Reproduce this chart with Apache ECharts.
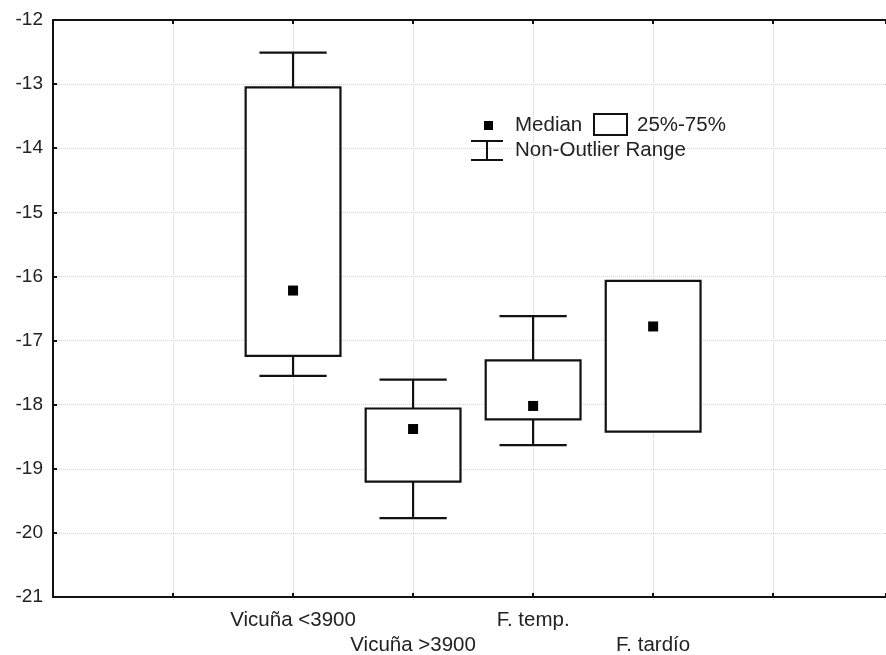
<!DOCTYPE html>
<html lang="es">
<head>
  <meta charset="utf-8">
  <title>Box plot</title>
  <script src="https://cdn.jsdelivr.net/npm/echarts@6/dist/echarts.min.js"></script>
  <style>
    html, body { margin: 0; padding: 0; background: #fff; }
    #chart { width: 886px; height: 655px; }
  </style>
</head>
<body>
  <div id="chart"></div>
  <script>
    // grupos y su posicion en el eje x
    var groups = ['Vicuña <3900', 'Vicuña >3900', 'F. temp.', 'F. tardío'];
    var positions = [2, 3, 4, 5];
    // valores
    var whiskerLow = [-17.55, -19.77, -18.63, -18.42];
    var q1 = [-17.24, -19.20, -18.23, -18.42];
    var median = [-16.22, -18.38, -18.02, -16.78];
    var q3 = [-13.05, -18.06, -17.31, -16.07];
    var whiskerHigh = [-12.51, -17.61, -16.62, -16.07];

    var font = '"Liberation Sans", Arial, sans-serif';
    var ink = '#111';

    var boxData = positions.map(function (x, i) {
      return [x, whiskerLow[i], q1[i], median[i], q3[i], whiskerHigh[i]];
    });

    var chart = echarts.init(document.getElementById('chart'));

    function renderBox(params, api) {
      var x = api.value(0);
      var lo = api.coord([x, api.value(1)]);
      var b1 = api.coord([x, api.value(2)]);
      var md = api.coord([x, api.value(3)]);
      var b3 = api.coord([x, api.value(4)]);
      var hi = api.coord([x, api.value(5)]);
      var boxW = api.size([0.79, 0])[0];
      var capW = api.size([0.56, 0])[0];
      var line = { stroke: ink, lineWidth: 2.2, fill: null };
      var kids = [];
      if (hi[1] < b3[1] - 0.5) {
        kids.push({ type: 'line', shape: { x1: hi[0], y1: hi[1], x2: b3[0], y2: b3[1] }, style: line });
        kids.push({ type: 'line', shape: { x1: hi[0] - capW / 2, y1: hi[1], x2: hi[0] + capW / 2, y2: hi[1] }, style: line });
      }
      if (lo[1] > b1[1] + 0.5) {
        kids.push({ type: 'line', shape: { x1: lo[0], y1: lo[1], x2: b1[0], y2: b1[1] }, style: line });
        kids.push({ type: 'line', shape: { x1: lo[0] - capW / 2, y1: lo[1], x2: lo[0] + capW / 2, y2: lo[1] }, style: line });
      }
      kids.push({ type: 'rect', shape: { x: b3[0] - boxW / 2, y: b3[1], width: boxW, height: b1[1] - b3[1] },
        style: { stroke: ink, lineWidth: 2.2, fill: '#fff' } });
      kids.push({ type: 'rect', shape: { x: md[0] - 5, y: md[1] - 5, width: 10, height: 10 },
        style: { fill: '#000' } });
      return { type: 'group', children: kids };
    }

    var legendX = 471, legendY = 113;
    var txt = '20.5px ' + font;
    var option = {
      animation: false,
      backgroundColor: '#fff',
      textStyle: { fontFamily: font },
      grid: { left: 53, right: 0, top: 20, bottom: 58, outerBoundsMode: 'none', containLabel: false },
      xAxis: [{
        type: 'value', min: 0, max: 6.94, interval: 1,
        axisLine: { lineStyle: { color: ink, width: 2 } },
        axisTick: { inside: true, length: 4, lineStyle: { color: ink, width: 2 } },
        axisLabel: {
          margin: 11, fontSize: 20.5, color: '#222', lineHeight: 25, fontFamily: font,
          formatter: function (v) {
            var i = positions.indexOf(v);
            if (i < 0) return '';
            return (i % 2 === 1 ? '\n' : '') + groups[i];
          }
        },
        splitLine: { show: true, lineStyle: { color: '#d4d4d4', type: 'dotted', width: 1 } }
      }, {
        type: 'value', position: 'top', min: 0, max: 6.94, interval: 1,
        axisLine: { lineStyle: { color: ink, width: 2 } },
        axisTick: { inside: true, length: 4, lineStyle: { color: ink, width: 2 } },
        axisLabel: { show: false },
        splitLine: { show: false }
      }],
      yAxis: {
        type: 'value', min: -21, max: -12, interval: 1,
        axisLine: { show: true, lineStyle: { color: ink, width: 2 } },
        axisTick: { show: true, inside: true, length: 4, lineStyle: { color: ink, width: 2 } },
        axisLabel: { margin: 10, fontSize: 19, color: '#222', fontFamily: font },
        splitLine: { show: true, lineStyle: { color: '#d4d4d4', type: 'dotted', width: 1 } }
      },
      series: [{
        type: 'custom',
        renderItem: renderBox,
        encode: { x: 0, y: [1, 2, 3, 4, 5] },
        data: boxData,
        z: 5
      }],
      graphic: [
        { type: 'rect', shape: { x: legendX + 13, y: legendY + 8, width: 9, height: 9 }, style: { fill: '#000' }, z: 10 },
        { type: 'text', x: legendX + 44, y: legendY + 12, style: { text: 'Median', font: txt, fill: '#222', textVerticalAlign: 'middle' }, z: 10 },
        { type: 'rect', shape: { x: legendX + 123, y: legendY + 1, width: 33, height: 21 }, style: { fill: '#fff', stroke: ink, lineWidth: 2 }, z: 10 },
        { type: 'text', x: legendX + 166, y: legendY + 12, style: { text: '25%-75%', font: txt, fill: '#222', textVerticalAlign: 'middle' }, z: 10 },
        { type: 'line', shape: { x1: legendX, y1: legendY + 28, x2: legendX + 32, y2: legendY + 28 }, style: { stroke: ink, lineWidth: 2 }, z: 10 },
        { type: 'line', shape: { x1: legendX + 16, y1: legendY + 28, x2: legendX + 16, y2: legendY + 47 }, style: { stroke: ink, lineWidth: 2 }, z: 10 },
        { type: 'line', shape: { x1: legendX, y1: legendY + 47, x2: legendX + 32, y2: legendY + 47 }, style: { stroke: ink, lineWidth: 2 }, z: 10 },
        { type: 'text', x: legendX + 44, y: legendY + 37, style: { text: 'Non-Outlier Range', font: txt, fill: '#222', textVerticalAlign: 'middle' }, z: 10 }
      ]
    };
    chart.setOption(option);
  </script>
</body>
</html>
